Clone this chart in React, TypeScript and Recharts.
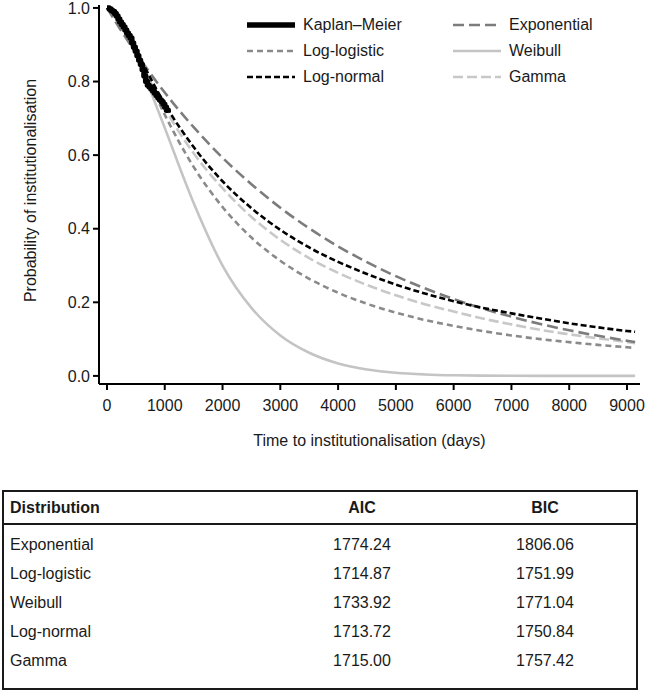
import React from 'react';
import { LineChart, Line, XAxis, YAxis, Legend } from 'recharts';

const FONT = '"Liberation Sans", Arial, Helvetica, sans-serif';
const TEXT = '#1a1a1a';

// Kaplan–Meier step estimate (days, survival)
const kmTimes = [0, 40, 70, 100, 130, 160, 190, 220, 250, 280, 310, 340, 370, 400, 430, 460, 490, 520, 550, 580, 610, 640, 670, 700, 730, 760, 790, 820, 850, 880, 910, 940, 970, 1000, 1030, 1060];
const kmSurv = [1.0, 0.997, 0.993, 0.99, 0.985, 0.978, 0.97, 0.962, 0.955, 0.948, 0.94, 0.932, 0.925, 0.918, 0.905, 0.893, 0.882, 0.87, 0.858, 0.846, 0.832, 0.815, 0.8, 0.79, 0.785, 0.78, 0.774, 0.768, 0.762, 0.756, 0.75, 0.745, 0.738, 0.73, 0.722, 0.716];

// Fitted parametric curves (days)
const fitTimes = [0, 250, 500, 750, 1000, 1500, 2000, 2500, 3000, 3500, 4000, 4500, 5000, 5500, 6000, 6500, 7000, 7500, 8000, 8500, 9000, 9140];
const exponentialSurv = [1.0, 0.937, 0.878, 0.822, 0.77, 0.676, 0.593, 0.521, 0.457, 0.401, 0.352, 0.309, 0.271, 0.238, 0.209, 0.183, 0.161, 0.141, 0.124, 0.109, 0.0955, 0.092];
const logLogisticSurv = [1.0, 0.954, 0.877, 0.792, 0.71, 0.568, 0.459, 0.376, 0.313, 0.264, 0.226, 0.196, 0.172, 0.152, 0.136, 0.122, 0.11, 0.1, 0.0917, 0.0843, 0.0778, 0.0761];
const weibullSurv = [1.0, 0.955, 0.874, 0.776, 0.674, 0.47, 0.3, 0.185, 0.11, 0.063, 0.034, 0.0175, 0.0085, 0.004, 0.0017, 0.0007, 0.0003, 0.0001, 0.0, 0.0, 0.0, 0.0];
const logNormalSurv = [1.0, 0.963, 0.887, 0.81, 0.739, 0.622, 0.529, 0.456, 0.397, 0.349, 0.31, 0.277, 0.248, 0.224, 0.203, 0.185, 0.17, 0.156, 0.143, 0.132, 0.122, 0.12];
const gammaSurv = [1.0, 0.96, 0.882, 0.8, 0.727, 0.605, 0.51, 0.432, 0.37, 0.32, 0.28, 0.247, 0.219, 0.195, 0.175, 0.156, 0.14, 0.125, 0.113, 0.102, 0.092, 0.089];

const xTicks = [0, 1000, 2000, 3000, 4000, 5000, 6000, 7000, 8000, 9000];
const yTicks = [0, 0.2, 0.4, 0.6, 0.8, 1.0];

// Model fit table
const distNames = ['Exponential', 'Log-logistic', 'Weibull', 'Log-normal', 'Gamma'];
const aicValues = ['1774.24', '1714.87', '1733.92', '1713.72', '1715.00'];
const bicValues = ['1806.06', '1751.99', '1771.04', '1750.84', '1757.42'];

const kmData = kmTimes.map((t, i) => ({ t, s: kmSurv[i] }));
const fitData = fitTimes.map((t, i) => ({
  t,
  exponential: exponentialSurv[i],
  loglogistic: logLogisticSurv[i],
  weibull: weibullSurv[i],
  lognormal: logNormalSurv[i],
  gamma: gammaSurv[i],
}));

const legendItems = [
  { name: 'Kaplan–Meier', color: '#000000', width: 5.5, dash: undefined, col: 0, row: 0 },
  { name: 'Log-logistic', color: '#8a8a8a', width: 2.6, dash: '6 4', col: 0, row: 1 },
  { name: 'Log-normal', color: '#000000', width: 2.6, dash: '6 3', col: 0, row: 2 },
  { name: 'Exponential', color: '#7c7c7c', width: 2.6, dash: '11 5', col: 1, row: 0 },
  { name: 'Weibull', color: '#c4c4c4', width: 2.6, dash: undefined, col: 1, row: 1 },
  { name: 'Gamma', color: '#c8c8c8', width: 2.6, dash: '10 4', col: 1, row: 2 },
];

const legendCols = [247, 453];
const legendRows = [25, 51, 77];

const renderLegend = () => (
  <div style={{ position: 'relative', width: 646, height: 0 }}>
    {legendItems.map((it) => {
      const lx = legendCols[it.col];
      const ly = legendRows[it.row];
      return (
        <div key={it.name}>
          <svg
            width={50}
            height={10}
            style={{ position: 'absolute', left: lx, top: ly - 5, overflow: 'visible' }}
          >
            <line x1={0} y1={5} x2={48} y2={5} stroke={it.color} strokeWidth={it.width} strokeDasharray={it.dash} />
          </svg>
          <span
            style={{
              position: 'absolute',
              left: lx + 56,
              top: ly - 10,
              fontFamily: FONT,
              fontSize: 16,
              lineHeight: '20px',
              color: TEXT,
              whiteSpace: 'nowrap',
            }}
          >
            {it.name}
          </span>
        </div>
      );
    })}
  </div>
);

const YLabel = (props: any) => {
  const vb = props.viewBox || { x: 0, y: 5, width: 99, height: 379 };
  const cx = vb.x + 30;
  const cy = vb.y + vb.height / 2 - 4;
  return (
    <text
      x={cx}
      y={cy}
      transform={`rotate(-90, ${cx}, ${cy})`}
      textAnchor="middle"
      dominantBaseline="central"
      fontFamily={FONT}
      fontSize={16}
      fill={TEXT}
    >
      Probability of institutionalisation
    </text>
  );
};

const XLabel = (props: any) => {
  const vb = props.viewBox || { x: 99, y: 384, width: 541, height: 60 };
  const cx = vb.x + vb.width / 2;
  return (
    <text x={cx} y={440} textAnchor="middle" dominantBaseline="central" fontFamily={FONT} fontSize={16} fill={TEXT}>
      Time to institutionalisation (days)
    </text>
  );
};

const tableTop = 490;
const tableLeft = 2;
const tableWidth = 636;
const headerCenter = 508;
const separatorY = 524;
const rowCenters = [545, 574, 603, 632, 661];
const tableBottom = 690;
const colDistX = 10;
const colAicCenter = 362;
const colBicCenter = 545;

const cellStyle: React.CSSProperties = {
  position: 'absolute',
  fontFamily: FONT,
  fontSize: 16,
  lineHeight: '20px',
  color: TEXT,
  whiteSpace: 'nowrap',
};

function FitTable() {
  return (
    <div style={{ position: 'absolute', left: 0, top: 0, width: 646, height: 697, pointerEvents: 'none' }}>
      <div
        style={{
          position: 'absolute',
          left: tableLeft,
          top: tableTop,
          width: tableWidth,
          height: tableBottom - tableTop,
          border: '2px solid #1a1a1a',
          boxSizing: 'border-box',
        }}
      />
      <div
        style={{
          position: 'absolute',
          left: tableLeft,
          top: separatorY - 1,
          width: tableWidth,
          height: 2,
          background: '#1a1a1a',
        }}
      />
      <span style={{ ...cellStyle, left: colDistX, top: headerCenter - 10, fontWeight: 'bold' }}>Distribution</span>
      <span style={{ ...cellStyle, left: colAicCenter - 50, width: 100, textAlign: 'center', top: headerCenter - 10, fontWeight: 'bold' }}>AIC</span>
      <span style={{ ...cellStyle, left: colBicCenter - 50, width: 100, textAlign: 'center', top: headerCenter - 10, fontWeight: 'bold' }}>BIC</span>
      {distNames.map((name, i) => (
        <React.Fragment key={name}>
          <span style={{ ...cellStyle, left: colDistX, top: rowCenters[i] - 10 }}>{name}</span>
          <span style={{ ...cellStyle, left: colAicCenter - 50, width: 100, textAlign: 'center', top: rowCenters[i] - 10 }}>{aicValues[i]}</span>
          <span style={{ ...cellStyle, left: colBicCenter - 50, width: 100, textAlign: 'center', top: rowCenters[i] - 10 }}>{bicValues[i]}</span>
        </React.Fragment>
      ))}
    </div>
  );
}

export default function App() {
  return (
    <div style={{ position: 'absolute', left: 0, top: 0, width: 646, height: 697, background: '#ffffff' }}>
      <div style={{ position: 'absolute', left: 0, top: 0 }}>
        <LineChart
          width={646}
          height={460}
          data={fitData}
          margin={{ top: 5, right: 6, bottom: 16, left: 0 }}
        >
          <XAxis
            dataKey="t"
            type="number"
            domain={[-138, 9225]}
            allowDataOverflow
            ticks={xTicks}
            interval={0}
            height={60}
            tickSize={6}
            tickMargin={10}
            axisLine={{ stroke: '#000', strokeWidth: 2 }}
            tickLine={{ stroke: '#000', strokeWidth: 2 }}
            tick={{ fill: TEXT, fontSize: 16, fontFamily: FONT }}
            label={{ content: (p: any) => <XLabel {...p} /> }}
          />
          <YAxis
            type="number"
            domain={[-0.022, 1.008]}
            allowDataOverflow
            ticks={yTicks}
            interval={0}
            width={99}
            tickSize={6}
            tickMargin={3}
            tickFormatter={(v: number) => v.toFixed(1)}
            axisLine={{ stroke: '#000', strokeWidth: 2 }}
            tickLine={{ stroke: '#000', strokeWidth: 2 }}
            tick={{ fill: TEXT, fontSize: 16, fontFamily: FONT }}
            label={{ content: (p: any) => <YLabel {...p} /> }}
          />
          <Legend
            verticalAlign="top"
            align="left"
            content={renderLegend}
            wrapperStyle={{ position: 'absolute', left: 0, top: 0, width: 646, height: 0 }}
          />
          <Line dataKey="weibull" type="monotone" stroke="#c4c4c4" strokeWidth={2.6} dot={false} isAnimationActive={false} />
          <Line dataKey="gamma" type="monotone" stroke="#c8c8c8" strokeWidth={2.6} strokeDasharray="10 4" dot={false} isAnimationActive={false} />
          <Line dataKey="loglogistic" type="monotone" stroke="#8a8a8a" strokeWidth={2.6} strokeDasharray="6 4" dot={false} isAnimationActive={false} />
          <Line dataKey="exponential" type="monotone" stroke="#7c7c7c" strokeWidth={2.6} strokeDasharray="11 5" dot={false} isAnimationActive={false} />
          <Line dataKey="lognormal" type="monotone" stroke="#000000" strokeWidth={2.6} strokeDasharray="6 3" dot={false} isAnimationActive={false} />
          <Line data={kmData} dataKey="s" type="stepAfter" stroke="#000000" strokeWidth={5.5} strokeLinejoin="round" dot={false} isAnimationActive={false} />
        </LineChart>
      </div>
      <FitTable />
    </div>
  );
}
